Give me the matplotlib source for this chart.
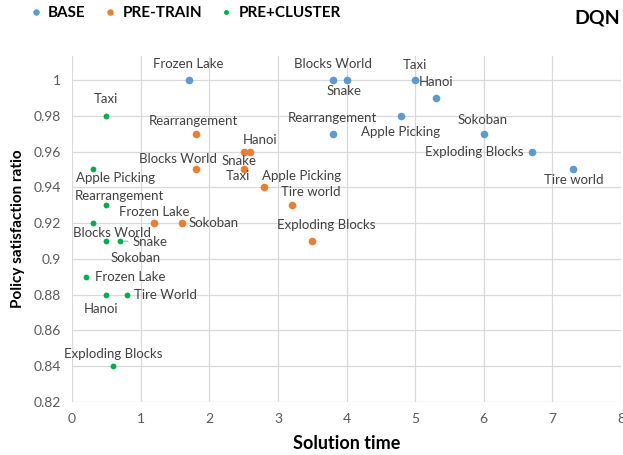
import matplotlib

matplotlib.use("Agg")
import matplotlib.pyplot as plt

plt.rcParams["font.family"] = ["Lato", "DejaVu Sans"]

# --- data ---
base_names = ["Frozen Lake", "Blocks World", "Snake", "Taxi", "Hanoi", "Rearrangement",
              "Apple Picking", "Sokoban", "Exploding Blocks", "Tire world"]
base_time = [1.7, 3.8, 4.0, 5.0, 5.3, 3.8, 4.8, 6.0, 6.7, 7.3]
base_ratio = [1.0, 1.0, 1.0, 1.0, 0.99, 0.97, 0.98, 0.97, 0.96, 0.95]

pre_names = ["Rearrangement", "Hanoi", "Snake", "Taxi", "Blocks World", "Apple Picking",
             "Tire world", "Exploding Blocks", "Frozen Lake", "Sokoban"]
pre_time = [1.8, 2.6, 2.5, 2.5, 1.8, 2.8, 3.2, 3.5, 1.2, 1.6]
pre_ratio = [0.97, 0.96, 0.96, 0.95, 0.95, 0.94, 0.93, 0.91, 0.92, 0.92]

clu_names = ["Taxi", "Apple Picking", "Rearrangement", "Blocks World", "Sokoban", "Snake",
             "Frozen Lake", "Hanoi", "Tire World", "Exploding Blocks"]
clu_time = [0.5, 0.3, 0.5, 0.3, 0.5, 0.7, 0.2, 0.5, 0.8, 0.6]
clu_ratio = [0.98, 0.95, 0.93, 0.92, 0.91, 0.91, 0.89, 0.88, 0.88, 0.84]

# label offsets in pixels (dx, dy, ha)
base_off = [(0, 16, "center"), (0, 16, "center"), (-2, -11, "center"), (0, 15, "center"),
            (0, 16, "center"), (0, 16, "center"), (-1, -16, "center"), (-1, 14, "center"),
            (-8, 0, "right"), (1, -11, "center")]
pre_off = [(-2, 13, "center"), (10, 12, "center"), (-5, -9, "center"), (-6, -7, "center"),
           (-18, 10, "center"), (37, 11, "center"), (19, 13, "center"), (14, 16, "center"),
           (0, 11, "center"), (7, 0, "left")]
clu_off = [(0, 17, "center"), (23, -9, "center"), (13, 9, "center"), (19, -10, "center"),
           (29, -17, "center"), (12, -1, "left"), (9, 0, "left"), (-5, -14, "center"),
           (7, 0, "left"), (0, 12, "center")]

BLUE, ORANGE, GREEN = "#5B9BD5", "#ED7D31", "#00B050"
LABEL_C = "#404040"

fig = plt.figure(figsize=(6.23, 4.55), dpi=100)
ax = fig.add_axes([0.1156, 0.1165, 0.8812, 0.7605])

series = [
    ("BASE", base_names, base_time, base_ratio, base_off, BLUE, 5.5),
    ("PRE-TRAIN", pre_names, pre_time, pre_ratio, pre_off, ORANGE, 5.5),
    ("PRE+CLUSTER", clu_names, clu_time, clu_ratio, clu_off, GREEN, 4.2),
]

for name, labels, xs, ys, offs, color, ms in series:
    ax.plot(xs, ys, "o", color=color, markersize=ms, markeredgewidth=0,
            label=name, zorder=3)
    for lab, x, y, (dx, dy, ha) in zip(labels, xs, ys, offs):
        arrow = None
        if name == "PRE+CLUSTER" and lab == "Snake":
            arrow = dict(arrowstyle="-", color="#A6A6A6", lw=0.8, shrinkA=1, shrinkB=3)
        ax.annotate(lab, (x, y), xytext=(dx, dy), textcoords="offset pixels",
                    ha=ha, va="center", fontsize=9.5, color=LABEL_C,
                    arrowprops=arrow, zorder=4)

ax.set_xlim(0, 8)
ax.set_ylim(0.82, 1.0134)
ax.set_xticks(range(0, 9))
ax.set_yticks([0.82, 0.84, 0.86, 0.88, 0.9, 0.92, 0.94, 0.96, 0.98, 1.0])
ax.set_yticklabels(["0.82", "0.84", "0.86", "0.88", "0.9", "0.92", "0.94", "0.96", "0.98", "1"])
ax.tick_params(length=0, labelsize=10, labelcolor="#595959", pad=8)
ax.grid(True, color="#D9D9D9", linewidth=0.9)
ax.set_axisbelow(True)
for s in ax.spines.values():
    s.set_visible(False)

ax.set_xlabel("Solution time", fontsize=13, fontweight="bold", labelpad=7)
ax.set_ylabel("Policy satisfaction ratio", fontsize=11, fontweight="bold", labelpad=6)

fig.text(0.995, 0.96, "DQN", ha="right", va="center", fontsize=14, fontweight="bold")
fig.legend(loc="center left", bbox_to_anchor=(0.028, 0.971), ncol=3, frameon=False,
           handlelength=0.6, handletextpad=0.5, columnspacing=1.3, markerscale=0.85,
           prop={"weight": "bold", "size": 11})

fig.savefig("out.png", dpi=100)
